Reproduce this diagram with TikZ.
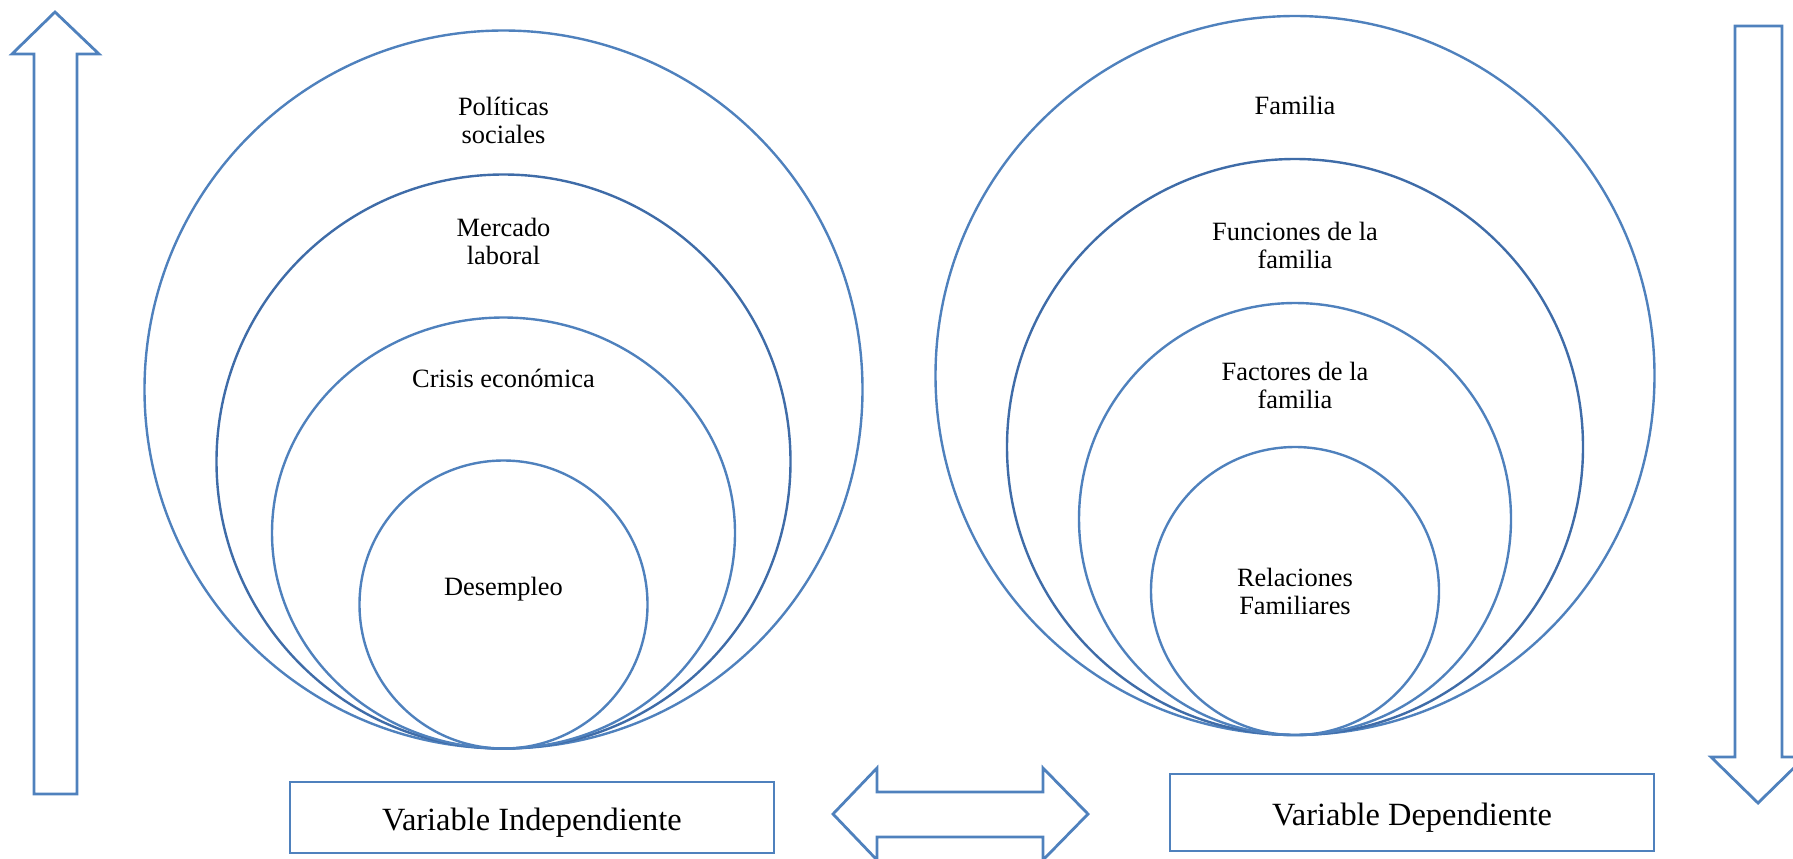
\documentclass[tikz,border=0pt]{standalone}
\usepackage{fontspec}
\setmainfont{Liberation Serif}
\definecolor{ringblue}{HTML}{4F81BD}
\definecolor{darkring}{HTML}{3F6CA8}

\begin{document}
\begin{tikzpicture}[y=0.5pt, x=0.5pt, yscale=-1, inner sep=0pt, outer sep=0pt,
  ring/.style={draw=ringblue, line width=1.2pt},
  innerring/.style={draw=darkring, line width=1.2pt},
  ringtext/.style={align=center, font=\fontsize{13.2}{14}\selectfont},
  varbox/.style={draw=ringblue, line width=1.4pt, minimum width=242pt,
    text depth=0pt, font=\fontsize{16.2}{19}\selectfont},
  blockarrow/.style={draw=ringblue, line width=1.4pt, line join=miter}]
\useasboundingbox (0,0) rectangle (1793,858);
\clip (0,0) rectangle (1793,858);

\path[ring] (503.5,389.5) circle[radius=359];
\path[innerring] (503.5,461.5) circle[radius=287];
\path[ring] (503.5,533) ellipse[x radius=231.5, y radius=215.5];
\path[ring] (503.5,604.5) circle[radius=144];

\path[ring] (1295,375.5) circle[radius=359.5];
\path[innerring] (1295,447) circle[radius=288];
\path[ring] (1295,519) circle[radius=216];
\path[ring] (1295,591) circle[radius=144];

\path (503.5,120) node[ringtext] (politicas) {Políticas\\sociales};
\path (503.5,241) node[ringtext] (mercado) {Mercado\\laboral};
\path (503.5,378) node[ringtext] (crisis) {Crisis económica};
\path (503.5,589) node[ringtext] (desempleo) {Desempleo};

\path (1295,105) node[ringtext] (familia) {Familia};
\path (1295,245.5) node[ringtext] (funciones) {Funciones de la\\familia};
\path (1295,385) node[ringtext] (factores) {Factores de la\\familia};
\path (1295,591.5) node[ringtext] (relaciones) {Relaciones\\Familiares};

\path (532,817.5) node[varbox, minimum height=35.5pt, text height=12.5pt]
  (varindep) {Variable Independiente};
\path (1412,812.5) node[varbox, minimum height=38.5pt, text height=13pt]
  (vardep) {Variable Dependiente};

\path[blockarrow] (55,12) -- (99,54) -- (77,54) -- (77,794) -- (34,794)
  -- (34,54) -- (12,54) -- cycle;
\path[blockarrow] (1735,26) -- (1782,26) -- (1782,757) -- (1805,757)
  -- (1758,803) -- (1711,757) -- (1735,757) -- cycle;
\path[blockarrow] (833,814) -- (877,768) -- (877,792) -- (1043,792)
  -- (1043,768) -- (1088,814) -- (1043,860) -- (1043,837) -- (877,837)
  -- (877,860) -- cycle;

\end{tikzpicture}
\end{document}
